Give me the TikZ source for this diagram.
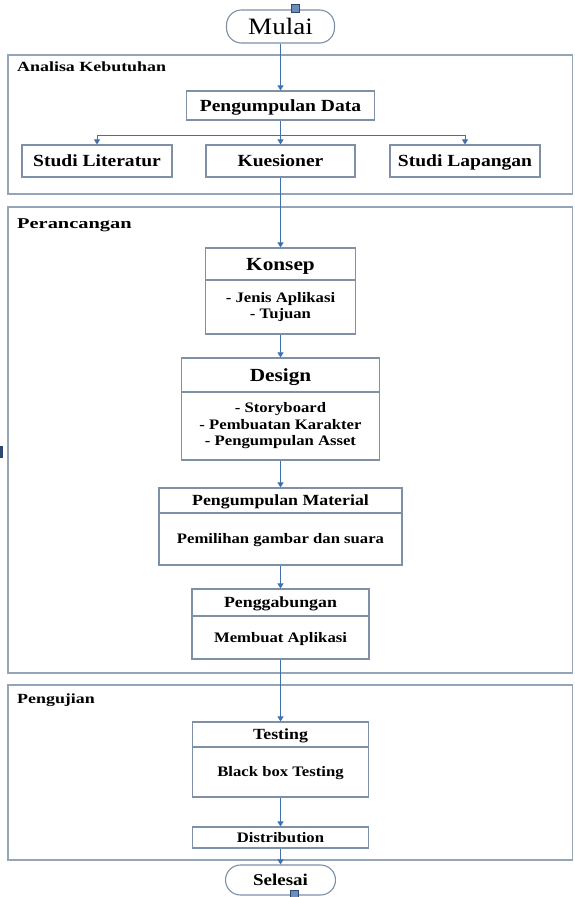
\documentclass[tikz,border=0pt]{standalone}
\usepackage{fontspec}
\setmainfont{Liberation Serif}
\usetikzlibrary{arrows.meta}
\newcommand{\sx}[2][1.15]{\scalebox{#1}[1]{#2}}
\definecolor{arr}{HTML}{3F72AD}
\definecolor{bord}{HTML}{7D90A6}
\definecolor{pan}{HTML}{95A5B8}
\definecolor{sqf}{HTML}{6F8DBA}
\definecolor{sqd}{HTML}{2C4770}
\begin{document}
\begin{tikzpicture}[x=1pt,y=-1pt,
  panelbox/.style={draw=pan, line width=1.6pt, fill=white},
  plabel/.style={inner sep=0pt, anchor=base west, font=\fontsize{14}{16}\selectfont\bfseries},
  boxbase/.style={draw=bord, line width=1.1pt, fill=white, inner sep=0pt},
  box/.style={boxbase, text height=11.9pt, text depth=0.9pt, font=\fontsize{17}{20}\selectfont\bfseries},
  ttl/.style={boxbase, text height=10.9pt, text depth=0.8pt, font=\fontsize{15.5}{18}\selectfont\bfseries},
  bigttl/.style={boxbase, text height=13pt, text depth=0.9pt, font=\fontsize{18.5}{21}\selectfont\bfseries},
  body/.style={boxbase, text height=10.2pt, text depth=0.7pt, font=\fontsize{14.5}{16.5}\selectfont\bfseries},
  bodym/.style={boxbase, font=\fontsize{14.5}{16.5}\selectfont\bfseries},
  term/.style={boxbase, rounded corners=15pt},
  arrow/.style={draw=arr, line width=1pt, -{Triangle[width=6pt,length=5pt]}},
  conn/.style={draw=arr, line width=1pt}
]
\fill[white] (0,0) rectangle (574,897);
\path[use as bounding box] (0,0) rectangle (574,897);

% panels
\draw[panelbox] (8,55) rectangle (572.5,194);
\draw[panelbox] (8,207) rectangle (572.5,673);
\draw[panelbox] (8,685) rectangle (572.5,860);

\node[plabel] (lab1) at (17,71) {\sx[1.28]{Analisa Kebutuhan}};
\node[plabel, font=\fontsize{15}{17}\selectfont\bfseries] (lab2) at (17,228) {\sx[1.36]{Perancangan}};
\node[plabel] (lab3) at (17,703) {\sx[1.28]{Pengujian}};

% terminals
\node[term, minimum width=108pt, minimum height=33pt, text height=16.5pt, text depth=1.2pt, font=\fontsize{23.5}{26}\selectfont] (mulai) at (280.5,26.5) {\sx{Mulai}};
\node[term, minimum width=110pt, minimum height=30pt, text height=11.6pt, text depth=0.8pt, font=\fontsize{16.5}{19}\selectfont\bfseries] (selesai) at (280.5,880) {\sx{Selesai}};

% analisa kebutuhan
\node[box, minimum width=188pt, minimum height=29pt] (pd) at (280.5,105.5) {\sx{Pengumpulan Data}};
\node[box, minimum width=150pt, minimum height=32pt] (studiL) at (97,161) {\sx{Studi Literatur}};
\node[box, minimum width=149pt, minimum height=32pt] (kues) at (280.5,161) {\sx{Kuesioner}};
\node[box, minimum width=150pt, minimum height=32pt] (studiLap) at (465,161) {\sx{Studi Lapangan}};

% perancangan
\node[bigttl, minimum width=150pt, minimum height=32pt] (konsepT) at (280.5,264) {\sx{Konsep}};
\node[bodym, minimum width=150pt, minimum height=54pt] (konsepB) at (280.5,307) {\sx{\begin{tabular}{@{}c@{}}- Jenis Aplikasi\\- Tujuan\end{tabular}}};

\node[bigttl, minimum width=198pt, minimum height=34pt] (designT) at (280.5,375) {\sx{Design}};
\node[bodym, minimum width=198pt, minimum height=68pt] (designB) at (280.5,426) {\sx{\begin{tabular}{@{}c@{}}- Storyboard\\- Pembuatan Karakter\\- Pengumpulan Asset\end{tabular}}};

\node[ttl, minimum width=243pt, minimum height=25pt] (pmT) at (280.5,500.5) {\sx{Pengumpulan Material}};
\node[body, minimum width=243pt, minimum height=52pt] (pmB) at (280.5,539) {\sx{Pemilihan gambar dan suara}};

\node[ttl, minimum width=177pt, minimum height=27pt] (pgT) at (280.5,602.5) {\sx{Penggabungan}};
\node[body, minimum width=177pt, minimum height=43pt] (pgB) at (280.5,637.5) {\sx{Membuat Aplikasi}};

% pengujian
\node[ttl, minimum width=176pt, minimum height=25pt] (testT) at (280.5,734.5) {\sx{Testing}};
\node[body, minimum width=176pt, minimum height=50pt] (testB) at (280.5,772) {\sx{Black box Testing}};
\node[body, minimum width=176pt, minimum height=21pt] (dist) at (280.5,837.5) {\sx{Distribution}};

% connectors
\coordinate (br) at (280.5,135);
\draw[arrow] (mulai.south) -- (pd.north);
\draw[arrow] (pd.south) -- (kues.north);
\draw[arrow] (br) -| (studiL.north);
\draw[arrow] (br) -| (studiLap.north);
\draw[arrow] (kues.south) -- (konsepT.north);
\draw[arrow] (konsepB.south) -- (designT.north);
\draw[arrow] (designB.south) -- (pmT.north);
\draw[arrow] (pmB.south) -- (pgT.north);
\draw[arrow] (pgB.south) -- (testT.north);
\draw[arrow] (testB.south) -- (dist.north);
\draw[arrow] (dist.south) -- (selesai.north);

% handles
\filldraw[fill=sqf, draw=sqd, line width=0.6pt] (291,4) rectangle (299,12);
\filldraw[fill=sqf, draw=sqd, line width=0.6pt] (290,890) rectangle (298,897);
\fill[sqd] (0,446) rectangle (2.5,458);
\end{tikzpicture}
\end{document}
